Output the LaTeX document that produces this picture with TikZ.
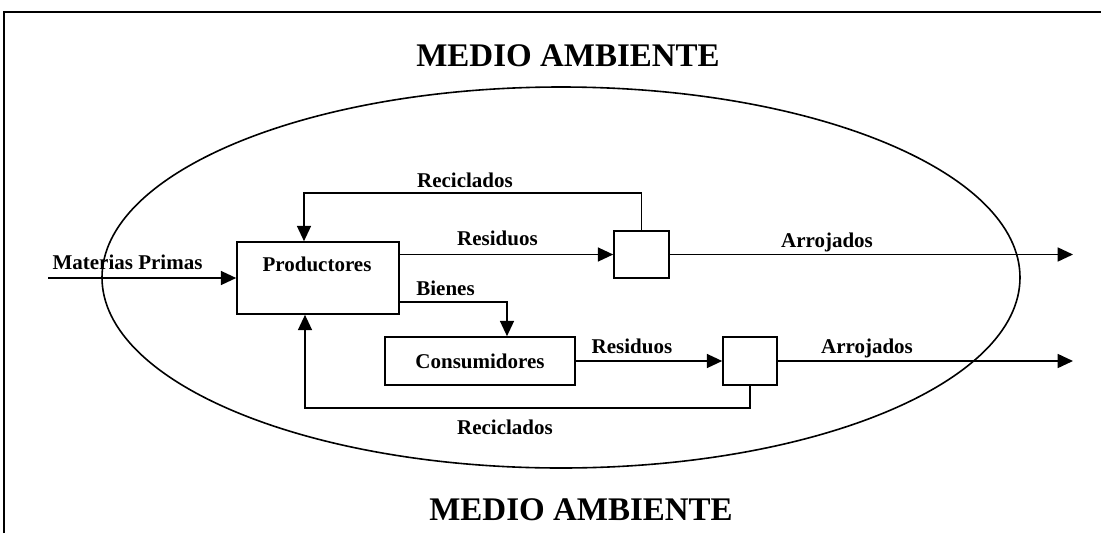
\documentclass[tikz,border=0pt]{standalone}
\usepackage{fontspec}
\setmainfont{Liberation Serif}
\usetikzlibrary{arrows.meta}
\tikzset{
  flow/.style={line width=1.2pt},
  arr/.style={flow,-{Triangle[length=11.5pt,width=10.5pt]}},
  boxn/.style={draw,line width=1.2pt,rectangle,inner sep=0pt},
  lbl/.style={font=\fontsize{15.75}{18}\selectfont\bfseries,inner sep=0pt,anchor=base},
  ttl/.style={font=\fontsize{24.75}{28}\selectfont\bfseries,inner sep=0pt,anchor=base},
}
\begin{document}
\begin{tikzpicture}[x=0.75pt,y=-0.75pt]
\useasboundingbox (0,0) rectangle (1101,533);
% frame
\draw[line width=0.9pt] (4,533) -- (4,12) -- (1101,12);
% ellipse
\draw[line width=1.2pt] (561,277.5) ellipse [x radius=344.25pt, y radius=142.875pt];
% titles
\node[ttl] (t1) at (568,66) {MEDIO AMBIENTE};
\node[ttl] (t2) at (581,520) {MEDIO AMBIENTE};
% boxes
\node[boxn,minimum width=121.5pt,minimum height=54pt] (prod) at (318,278) {};
\node[lbl] (prodt) at (317,271) {Productores};
\node[boxn,minimum width=142.5pt,minimum height=36pt,font=\fontsize{15.75}{18}\selectfont\bfseries] (cons) at (480,361) {Consumidores};
\node[boxn,minimum width=41.25pt,minimum height=35.25pt] (b1) at (641.5,254.5) {};
\node[boxn,minimum width=40.5pt,minimum height=36pt] (b2) at (750,361) {};
% coordinates
\coordinate (mp) at (48,278);
\coordinate (rt) at (304,193);
\coordinate (rb) at (305,408);
\coordinate (bn) at (507,302);
\coordinate (a1) at (1073,254.5);
\coordinate (a2) at (1073,361);
% connectors
\draw[arr] (mp) -- (prod.west);
\draw[arr] (b1.north) |- (rt) -- (rt |- prod.north);
\draw[arr] (prod.east |- b1.west) -- (b1.west);
\draw[arr] (b1.east) -- (a1);
\draw[arr] (prod.east |- bn) -- (bn) -- (bn |- cons.north);
\draw[arr] (cons.east) -- (b2.west);
\draw[arr] (b2.east) -- (a2);
\draw[arr] (b2.south) |- (rb) -- (rb |- prod.south);
% labels
\node[lbl] (l1) at (127.5,269) {Materias Primas};
\node[lbl] (l2) at (465,187) {Reciclados};
\node[lbl] (l3) at (497.5,245) {Residuos};
\node[lbl] (l4) at (445.5,295) {Bienes};
\node[lbl] (l5) at (632,353) {Residuos};
\node[lbl] (l6) at (827,247) {Arrojados};
\node[lbl] (l7) at (867,353) {Arrojados};
\node[lbl] (l8) at (505,434) {Reciclados};
\end{tikzpicture}
\end{document}
